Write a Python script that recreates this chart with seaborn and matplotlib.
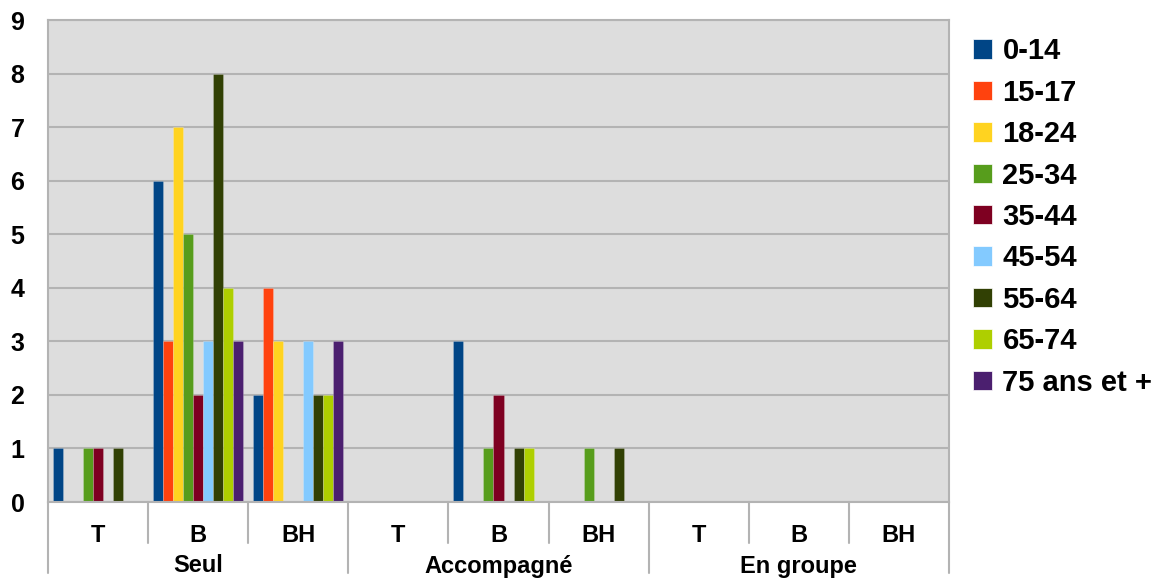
import numpy as np
import pandas as pd
import matplotlib
matplotlib.use("Agg")
import matplotlib.pyplot as plt
import matplotlib.transforms as mtransforms
from matplotlib.patches import Patch
import seaborn as sns

# ---- data ----
groups = ["Seul", "Accompagné", "En groupe"]
subcats = ["T", "B", "BH"]
ages = ["0-14", "15-17", "18-24", "25-34", "35-44", "45-54", "55-64", "65-74", "75 ans et +"]

# one row per x category (group x subcat), one column per age class
seul_t = [1, 0, 0, 1, 1, 0, 1, 0, 0]
seul_b = [6, 3, 7, 5, 2, 3, 8, 4, 3]
seul_bh = [2, 4, 3, 0, 0, 3, 2, 2, 3]
acc_t = [0, 0, 0, 0, 0, 0, 0, 0, 0]
acc_b = [3, 0, 0, 1, 2, 0, 1, 1, 0]
acc_bh = [0, 0, 0, 1, 0, 0, 1, 0, 0]
grp_t = [0, 0, 0, 0, 0, 0, 0, 0, 0]
grp_b = [0, 0, 0, 0, 0, 0, 0, 0, 0]
grp_bh = [0, 0, 0, 0, 0, 0, 0, 0, 0]

colors = ["#004586", "#ff420e", "#ffd320", "#579d1c", "#7e0021",
          "#83caff", "#314004", "#aecf00", "#4b1f6f"]

rows = [seul_t, seul_b, seul_bh, acc_t, acc_b, acc_bh, grp_t, grp_b, grp_bh]
keys = [g + "|" + s for g in groups for s in subcats]

records = []
for k, vals in zip(keys, rows):
    for a, v in zip(ages, vals):
        records.append({"cat": k, "age": a, "n": v})
df = pd.DataFrame(records)

# ---- plot ----
sns.set_style("white")
plt.rcParams["font.family"] = ["Liberation Sans", "DejaVu Sans"]
plt.rcParams["text.color"] = "black"
plt.rcParams["ytick.labelcolor"] = "black"

W, H = 1171, 583
fig = plt.figure(figsize=(W / 100, H / 100), dpi=100)
ax = fig.add_axes([48 / W, 1 - 502 / H, (949 - 48) / W, (502 - 20) / H])
ax.set_facecolor("#dddddd")

sns.barplot(data=df, x="cat", y="n", hue="age", order=keys, hue_order=ages,
            palette=colors, width=0.9, saturation=1, errorbar=None,
            linewidth=0.4, edgecolor="#ffffff55", ax=ax, legend=False)

ax.set_ylim(0, 9)
ax.set_xlim(-0.5, len(keys) - 0.5)
ax.set_yticks(range(0, 10))
ax.yaxis.grid(True, color="#b3b3b3", linewidth=1.5)
ax.set_axisbelow(True)
ax.set_xlabel("")
ax.set_ylabel("")

for sp in ax.spines.values():
    sp.set_color("#b3b3b3")
    sp.set_linewidth(1.5)

ax.tick_params(axis="y", length=13, color="#b3b3b3", width=1.5, pad=4,
               labelsize=18)
for lab in ax.get_yticklabels():
    lab.set_fontweight("bold")
ax.set_xticks([])

# category labels and separators below the axis
trans = mtransforms.blended_transform_factory(ax.transData, ax.transAxes)
ph = 502 - 20
bot = -(543 - 502) / ph
bot2 = -(573 - 502) / ph
for i, k in enumerate(keys):
    ax.text(i, -(535 - 502) / ph, k.split("|")[1], transform=trans,
            ha="center", va="center", fontsize=17, fontweight="bold")
for i in range(len(keys) + 1):
    y0 = bot2 if i % 3 == 0 else bot
    ax.plot([i - 0.5, i - 0.5], [0, y0], transform=trans, color="#b3b3b3",
            linewidth=1.5, clip_on=False)
for j, g in enumerate(groups):
    ax.text(3 * j + 1, -(566 - 502) / ph, g, transform=trans,
            ha="center", va="center", fontsize=17, fontweight="bold")

# legend
handles = [Patch(facecolor=c, edgecolor="#ffffff", linewidth=0.5) for c in colors]
leg = fig.legend(handles, ages, loc="upper left",
                 bbox_to_anchor=(947 / W, 1 - 11 / H), frameon=False,
                 handlelength=0.65, handleheight=0.65, handletextpad=0.35,
                 labelspacing=0.46,
                 prop={"weight": "bold", "size": 21})

fig.savefig("out.png", dpi=100)
